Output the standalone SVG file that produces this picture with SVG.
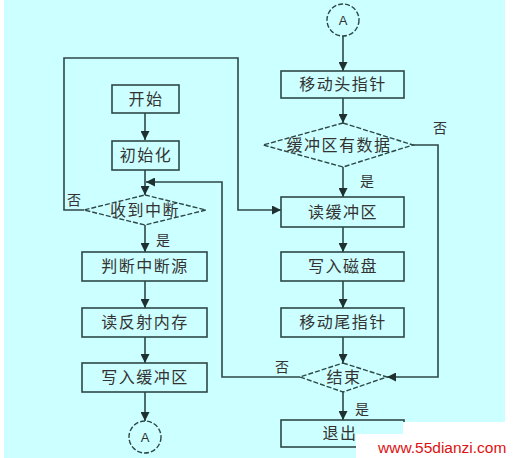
<svg xmlns="http://www.w3.org/2000/svg" width="513" height="458" viewBox="0 0 513 458">
<style>
.bg{fill:#ccffff}
.box{fill:#ccffff;stroke:#2e4848;stroke-width:1.6}
.dia{fill:#ccffff;stroke:#2e4848;stroke-width:1.4;stroke-dasharray:5 2}
.ln{fill:none;stroke:#2e4848;stroke-width:1.6}
.t{font-family:"Noto Sans CJK SC","Noto Sans CJK JP",sans-serif;font-size:16px;fill:#333;text-anchor:middle;letter-spacing:1.5px}
.lb{font-family:"Noto Sans CJK SC","Noto Sans CJK JP",sans-serif;font-size:14px;fill:#333}
.a{font-family:"Liberation Sans",Arial,sans-serif;font-size:13px;fill:#333;text-anchor:middle}
</style>
<defs>
<marker id="ar" viewBox="0 0 10 10" refX="10" refY="5" markerWidth="9" markerHeight="9" markerUnits="userSpaceOnUse" orient="auto">
<path d="M0,0 L10,5 L0,10 z" fill="#1e3030"/>
</marker>
</defs>
<rect x="0" y="0" width="513" height="458" fill="#ffffff"/>
<rect class="bg" x="4" y="0" width="501" height="458"/>

<g id="connectors">
<line class="ln" x1="145" y1="113" x2="145" y2="140" marker-end="url(#ar)"/>
<line class="ln" x1="145" y1="170" x2="145" y2="195" marker-end="url(#ar)"/>
<line class="ln" x1="145" y1="225" x2="145" y2="252" marker-end="url(#ar)"/>
<line class="ln" x1="145" y1="281" x2="145" y2="308" marker-end="url(#ar)"/>
<line class="ln" x1="145" y1="337" x2="145" y2="363" marker-end="url(#ar)"/>
<line class="ln" x1="145" y1="392" x2="145" y2="421" marker-end="url(#ar)"/>
<polyline class="ln" points="84,210 64,210 64,58 238,58 238,210 281,210" marker-end="url(#ar)"/>
<polyline class="ln" points="300,377 222,377 222,182 146,182" marker-end="url(#ar)"/>
<line class="ln" x1="343" y1="36" x2="343" y2="71" marker-end="url(#ar)"/>
<line class="ln" x1="343" y1="98" x2="343" y2="123" marker-end="url(#ar)"/>
<line class="ln" x1="343" y1="167" x2="343" y2="197" marker-end="url(#ar)"/>
<polyline class="ln" points="413,145 438,145 438,377 387,377" marker-end="url(#ar)"/>
<line class="ln" x1="343" y1="227" x2="343" y2="252" marker-end="url(#ar)"/>
<line class="ln" x1="343" y1="281" x2="343" y2="308" marker-end="url(#ar)"/>
<line class="ln" x1="343" y1="337" x2="343" y2="363" marker-end="url(#ar)"/>
<line class="ln" x1="343" y1="392" x2="343" y2="420" marker-end="url(#ar)"/>
<text class="lb" x="67" y="205">否</text>
<text class="lb" x="156" y="245">是</text>
<text class="lb" x="433" y="133">否</text>
<text class="lb" x="360" y="186">是</text>
<text class="lb" x="275" y="372">否</text>
<text class="lb" x="355" y="414">是</text>
</g>

<g id="start"><rect class="box" x="112" y="85" width="67" height="28"/><text class="t" x="146" y="105">开始</text></g>
<g id="init"><rect class="box" x="112" y="141" width="67" height="29"/><text class="t" x="146" y="161">初始化</text></g>
<g id="recvInt"><polygon class="dia" points="145,195 206,210 145,225 84,210"/><text class="t" x="145" y="216">收到中断</text></g>
<g id="judgeSrc"><rect class="box" x="82" y="252" width="125" height="29"/><text class="t" x="145" y="272">判断中断源</text></g>
<g id="readMem"><rect class="box" x="82" y="308" width="125" height="29"/><text class="t" x="145" y="328">读反射内存</text></g>
<g id="writeBuf"><rect class="box" x="82" y="363" width="125" height="29"/><text class="t" x="145" y="383">写入缓冲区</text></g>
<g id="connA1"><circle class="dia" cx="145" cy="437" r="16" stroke-dasharray="3 2"/><text class="a" x="145" y="442">A</text></g>

<g id="connA2"><circle class="dia" cx="343" cy="20" r="16" stroke-dasharray="3 2"/><text class="a" x="343" y="25">A</text></g>
<g id="moveHead"><rect class="box" x="281" y="71" width="123" height="27"/><text class="t" x="343" y="90">移动头指针</text></g>
<g id="hasData"><polygon class="dia" points="343,123 413,145 343,167 263,145"/><text class="t" x="339" y="151">缓冲区有数据</text></g>
<g id="readBuf"><rect class="box" x="281" y="197" width="123" height="30"/><text class="t" x="343" y="218">读缓冲区</text></g>
<g id="writeDisk"><rect class="box" x="281" y="252" width="123" height="29"/><text class="t" x="343" y="272">写入磁盘</text></g>
<g id="moveTail"><rect class="box" x="281" y="308" width="123" height="29"/><text class="t" x="343" y="328">移动尾指针</text></g>
<g id="end"><polygon class="dia" points="343,363 387,377 343,392 300,377"/><text class="t" x="344" y="383">结束</text></g>
<g id="exit"><rect class="box" x="281" y="420" width="123" height="27"/><text class="t" x="340" y="439">退出</text></g>

<g id="watermark">
<rect x="403" y="422" width="102" height="36" fill="#ffffff"/>
<rect x="356" y="434" width="149" height="24" fill="#ffffff"/>
<text x="378" y="453" font-family="'Liberation Sans',Arial,sans-serif" font-size="15.5" fill="#dd1111">www.55dianzi.com</text>
</g>
</svg>
